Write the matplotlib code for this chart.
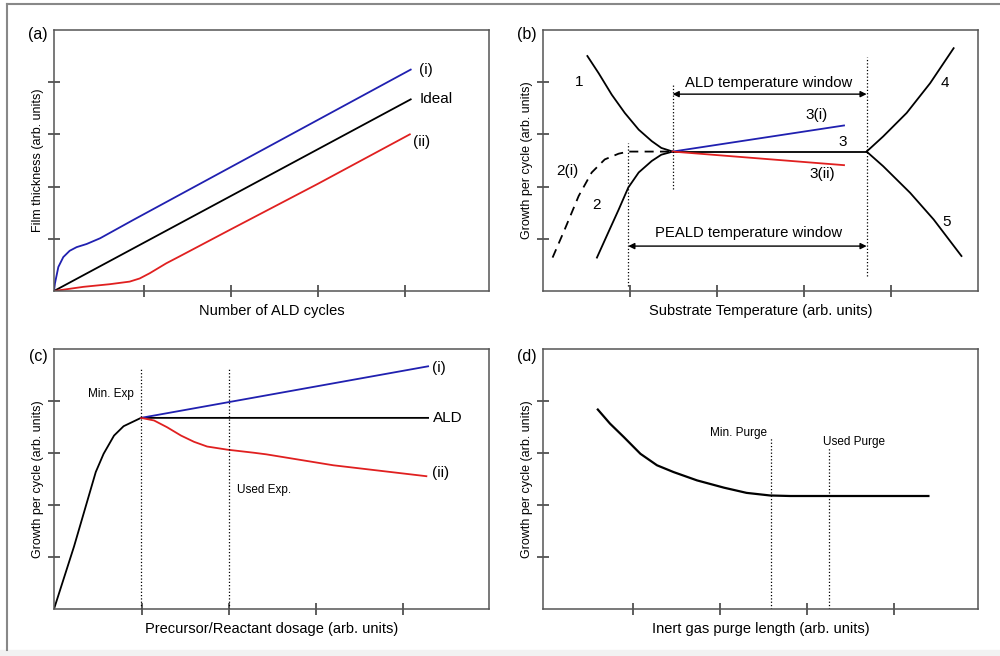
import matplotlib
matplotlib.use("Agg")
import matplotlib.pyplot as plt
from matplotlib.lines import Line2D

plt.rcParams['font.family'] = ['Liberation Sans', 'DejaVu Sans']
plt.rcParams['lines.solid_joinstyle'] = 'round'

# (a) espesor de película frente a número de ciclos
a_ideal_x = [0.0, 4.10]
a_ideal_y = [0.0, 3.67]
a_i_x = [0.0, 0.011, 0.05, 0.107, 0.18, 0.26, 0.375, 0.53, 0.91, 4.10]
a_i_y = [0.0, 0.147, 0.46, 0.65, 0.77, 0.84, 0.90, 1.01, 1.36, 4.24]
a_ii_x = [0.0, 0.34, 0.64, 0.87, 0.985, 1.10, 1.29, 1.44, 2.02, 3.03, 4.09]
a_ii_y = [0.0, 0.08, 0.13, 0.18, 0.24, 0.34, 0.53, 0.66, 1.17, 2.05, 3.00]

# (b) crecimiento por ciclo frente a temperatura
b1_x = [0.51, 0.64, 0.79, 0.94, 1.10, 1.25, 1.36, 1.49]
b1_y = [4.50, 4.17, 3.76, 3.41, 3.09, 2.87, 2.74, 2.67]
b2_x = [0.62, 0.75, 0.87, 0.98, 1.10, 1.25, 1.36, 1.49]
b2_y = [0.64, 1.12, 1.56, 1.98, 2.27, 2.49, 2.61, 2.67]
b2i_x = [0.11, 0.25, 0.41, 0.56, 0.71, 0.87, 0.98, 1.49]
b2i_y = [0.64, 1.18, 1.82, 2.27, 2.52, 2.63, 2.67, 2.67]
b3_x = [1.49, 3.72]
b3_y = [2.67, 2.67]
b3i_x = [1.49, 3.46]
b3i_y = [2.67, 3.17]
b3ii_x = [1.49, 3.46]
b3ii_y = [2.67, 2.41]
b4_x = [3.72, 3.91, 4.18, 4.45, 4.72]
b4_y = [2.67, 2.96, 3.41, 3.98, 4.65]
b5_x = [3.72, 3.91, 4.22, 4.49, 4.81]
b5_y = [2.67, 2.39, 1.88, 1.37, 0.67]

# (c) crecimiento por ciclo frente a dosis
c_ald_x = [0.0, 0.23, 0.48, 0.57, 0.69, 0.80, 1.00, 4.30]
c_ald_y = [0.0, 1.20, 2.63, 2.98, 3.33, 3.51, 3.67, 3.67]
c_i_x = [1.00, 4.30]
c_i_y = [3.67, 4.66]
c_ii_x = [1.00, 1.15, 1.30, 1.46, 1.61, 1.76, 1.99, 2.30, 2.44, 3.21, 4.28]
c_ii_y = [3.67, 3.62, 3.49, 3.33, 3.21, 3.12, 3.06, 3.00, 2.97, 2.76, 2.55]

# (d) crecimiento por ciclo frente a purga
d_x = [0.63, 0.77, 0.93, 1.12, 1.31, 1.50, 1.77, 2.08, 2.34, 2.61, 2.84, 4.43]
d_y = [3.83, 3.56, 3.30, 2.98, 2.76, 2.63, 2.47, 2.33, 2.23, 2.18, 2.17, 2.17]

azul = '#2020b0'
rojo = '#e02020'
gris = '#555555'

fig = plt.figure(figsize=(10, 6.56), dpi=100)

def preparar(pos, xlabel, ylabel, letra, xt, ly):
    ax = fig.add_axes(pos)
    ax.set_xlim(0, 5)
    ax.set_ylim(0, 5)
    ax.set_xticks(xt)
    ax.set_yticks([1, 2, 3, 4])
    ax.set_xticklabels([])
    ax.set_yticklabels([])
    ax.tick_params(direction='inout', length=9, width=1.1, color='#333333')
    for s in ax.spines.values():
        s.set_color(gris)
        s.set_linewidth(1.1)
    ax.set_xlabel(xlabel, fontsize=10.5, labelpad=1.5)
    ax.set_ylabel(ylabel, fontsize=9, labelpad=-1)
    ax.text(-0.037, ly, letra, transform=ax.transAxes, fontsize=11.5,
            ha='center', va='center')
    return ax

ax1 = preparar([0.054, 0.5564, 0.435, 0.398], 'Number of ALD cycles',
               'Film thickness (arb. units)', '(a)', [1.03, 2.03, 3.03, 4.03], 0.981)
ax2 = preparar([0.543, 0.5564, 0.435, 0.398], 'Substrate Temperature (arb. units)',
               'Growth per cycle (arb. units)', '(b)', [1.0, 2.0, 3.0, 4.0], 0.981)
ax3 = preparar([0.054, 0.0716, 0.435, 0.397], 'Precursor/Reactant dosage (arb. units)',
               'Growth per cycle (arb. units)', '(c)', [1.01, 2.01, 3.01, 4.01], 0.969)
ax4 = preparar([0.543, 0.0716, 0.435, 0.397], 'Inert gas purge length (arb. units)',
               'Growth per cycle (arb. units)', '(d)', [1.03, 2.03, 3.03, 4.03], 0.969)

lw = 1.3

# (a)
ax1.plot(a_ideal_x, a_ideal_y, color='k', lw=lw)
ax1.plot(a_i_x, a_i_y, color=azul, lw=lw)
ax1.plot(a_ii_x, a_ii_y, color=rojo, lw=lw)
ax1.text(4.27, 4.23, '(i)', fontsize=11, ha='center', va='center')
ax1.text(4.39, 3.67, 'Ideal', fontsize=11, ha='center', va='center')
ax1.text(4.22, 2.85, '(ii)', fontsize=11, ha='center', va='center')

# (b)
ax2.plot(b1_x, b1_y, color='k', lw=lw)
ax2.plot(b2_x, b2_y, color='k', lw=lw)
ax2.plot(b2i_x, b2i_y, color='k', lw=lw, ls=(0, (5, 3.5)))
ax2.plot(b3_x, b3_y, color='k', lw=lw)
ax2.plot(b3i_x, b3i_y, color=azul, lw=lw)
ax2.plot(b3ii_x, b3ii_y, color=rojo, lw=lw)
ax2.plot(b4_x, b4_y, color='k', lw=lw)
ax2.plot(b5_x, b5_y, color='k', lw=lw)
ax2.plot([1.49, 1.49], [1.95, 3.99], color='k', lw=0.9, ls=':')
ax2.plot([3.72, 3.72], [0.29, 4.49], color='k', lw=0.9, ls=':')
ax2.plot([0.98, 0.98], [0.09, 2.84], color='k', lw=0.9, ls=':')
ax2.annotate('', xy=(1.49, 3.77), xytext=(3.72, 3.77),
             arrowprops=dict(arrowstyle='<|-|>', color='k', lw=1.0,
                             mutation_scale=9, shrinkA=0, shrinkB=0))
ax2.annotate('', xy=(0.98, 0.86), xytext=(3.72, 0.86),
             arrowprops=dict(arrowstyle='<|-|>', color='k', lw=1.0,
                             mutation_scale=9, shrinkA=0, shrinkB=0))
ax2.text(2.59, 3.98, 'ALD temperature window', fontsize=10.7, ha='center', va='center')
ax2.text(2.36, 1.12, 'PEALD temperature window', fontsize=10.7, ha='center', va='center')
etiquetas_b = [('1', 0.41, 4.0), ('2(i)', 0.28, 2.30), ('2', 0.62, 1.64),
               ('3(i)', 3.15, 3.38), ('3', 3.45, 2.86), ('3(ii)', 3.21, 2.25),
               ('4', 4.62, 3.98), ('5', 4.64, 1.32)]
for t, x, y in etiquetas_b:
    ax2.text(x, y, t, fontsize=11, ha='center', va='center')

# (c)
ax3.plot(c_ald_x, c_ald_y, color='k', lw=lw)
ax3.plot(c_i_x, c_i_y, color=azul, lw=lw)
ax3.plot(c_ii_x, c_ii_y, color=rojo, lw=lw)
ax3.plot([1.00, 1.00], [0, 4.62], color='k', lw=0.9, ls=':')
ax3.plot([2.01, 2.01], [0, 4.62], color='k', lw=0.9, ls=':')
ax3.text(0.66, 4.12, 'Min. Exp', fontsize=8.5, ha='center', va='center')
ax3.text(2.41, 2.29, 'Used Exp.', fontsize=8.5, ha='center', va='center')
ax3.text(4.42, 4.63, '(i)', fontsize=11, ha='center', va='center')
ax3.text(4.53, 3.66, 'ALD', fontsize=11, ha='center', va='center')
ax3.text(4.44, 2.62, '(ii)', fontsize=11, ha='center', va='center')

# (d)
ax4.plot(d_x, d_y, color='k', lw=1.6)
ax4.plot([2.62, 2.62], [0, 3.28], color='k', lw=0.9, ls=':')
ax4.plot([3.29, 3.29], [0, 3.12], color='k', lw=0.9, ls=':')
ax4.text(2.25, 3.37, 'Min. Purge', fontsize=8.5, ha='center', va='center')
ax4.text(3.58, 3.21, 'Used Purge', fontsize=8.5, ha='center', va='center')

# marco exterior y franja inferior
fig.add_artist(Line2D([0.0065, 0.0065], [1 - 4 / 656, 1 - 650 / 656],
                      transform=fig.transFigure, color='#888888', lw=1.5))
fig.add_artist(Line2D([0.0065, 1.0], [1 - 4 / 656, 1 - 4 / 656],
                      transform=fig.transFigure, color='#888888', lw=1.5))
fig.patches.append(plt.Rectangle((0, 0), 1, 6 / 656, transform=fig.transFigure,
                                 color='#f2f2f2', zorder=-1))

fig.savefig('out.png', dpi=100)
